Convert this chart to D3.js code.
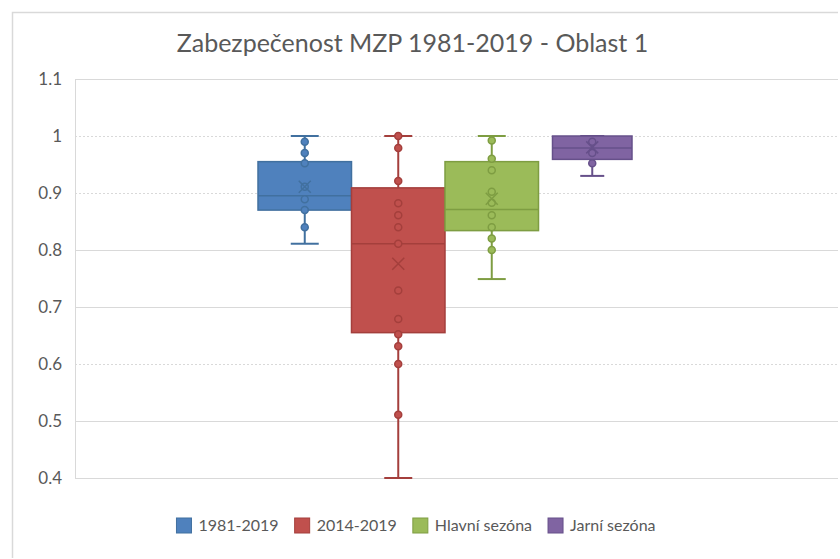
<!DOCTYPE html>
<html><head><meta charset="utf-8">
<script src="https://cdn.jsdelivr.net/npm/d3@7"></script>
<style>body{margin:0;background:#fff}svg{display:block}</style>
</head><body>
<svg id="c" width="840" height="559"></svg>
<script>
const title = "Zabezpečenost MZP 1981-2019 - Oblast 1";
const series = ["1981-2019", "2014-2019", "Hlavní sezóna", "Jarní sezóna"];
const fills = ["#4f81bd", "#c0504d", "#9bbb59", "#8064a2"];
const strokes = ["#41709f", "#a43f3c", "#7e9d42", "#66508a"];
const mins = [0.811, 0.40, 0.749, 0.93];
const q1s = [0.870, 0.655, 0.834, 0.959];
const medians = [0.895, 0.811, 0.871, 0.979];
const q3s = [0.955, 0.909, 0.955, 1.0];
const maxs = [1.0, 1.0, 1.0, 1.0];
const means = [0.911, 0.776, 0.890, 0.980];
const pointsBlue = [0.99, 0.97, 0.952, 0.911, 0.889, 0.870, 0.84];
const pointsRed = [1.0, 0.979, 0.921, 0.882, 0.861, 0.84, 0.811, 0.729, 0.679, 0.652, 0.631, 0.60, 0.511];
const pointsGreen = [0.992, 0.96, 0.94, 0.902, 0.883, 0.861, 0.84, 0.82, 0.80];
const pointsPurple = [0.99, 0.97, 0.952];
const points = [pointsBlue, pointsRed, pointsGreen, pointsPurple];
const yTicks = [0.4, 0.5, 0.6, 0.7, 0.8, 0.9, 1.0, 1.1];
const yTickLabels = ["0.4", "0.5", "0.6", "0.7", "0.8", "0.9", "1", "1.1"];
const dottedTicks = [0.6, 0.9, 1.0];

const svg = d3.select("#c");
const font = "Lato, 'Open Sans', sans-serif";
const plot = {left: 75, right: 838, top: 79, bottom: 478};

// chart border
svg.append("path").attr("d", "M12.5,558 V12.5 H838").attr("fill", "none").attr("stroke", "#d9d9d9").attr("stroke-width", 1.5);

const y = d3.scaleLinear().domain([0.4, 1.1]).range([plot.bottom, plot.top]);
const x = d3.scaleBand().domain(series).range([258, 632]).paddingInner(0).paddingOuter(0);

// gridlines
svg.append("g").selectAll("line").data(yTicks).join("line")
  .attr("x1", plot.left).attr("x2", plot.right)
  .attr("y1", d => Math.round(y(d)) + 0.5).attr("y2", d => Math.round(y(d)) + 0.5)
  .attr("stroke", "#d9d9d9").attr("stroke-width", 1)
  .attr("stroke-dasharray", d => dottedTicks.some(t => Math.abs(t - d) < 1e-9) ? "2,2" : null);
svg.append("line").attr("x1", plot.left + 0.5).attr("x2", plot.left + 0.5)
  .attr("y1", plot.top).attr("y2", plot.bottom + 0.5).attr("stroke", "#d9d9d9");

// y axis labels
const yAxis = d3.axisLeft(y).tickValues(yTicks).tickSize(0).tickPadding(0)
  .tickFormat((d, i) => yTickLabels[i]);
const ga = svg.append("g").attr("transform", `translate(62,0)`).call(yAxis);
ga.select(".domain").remove();
ga.selectAll("text").attr("font-family", font).attr("font-size", 17).attr("fill", "#595959");

// boxes
series.forEach((s, i) => {
  const inset = i === 3 ? 14 : 0;
  const x0 = x(s) + inset, w = x.bandwidth() - inset, cx = x0 + w / 2;
  const g = svg.append("g");
  const capW = i === 3 ? 24 : 28;
  // whiskers
  g.append("line").attr("x1", cx).attr("x2", cx).attr("y1", y(q3s[i])).attr("y2", y(maxs[i]))
    .attr("stroke", strokes[i]).attr("stroke-width", 2);
  g.append("line").attr("x1", cx).attr("x2", cx).attr("y1", y(q1s[i])).attr("y2", y(mins[i]))
    .attr("stroke", strokes[i]).attr("stroke-width", 2);
  [maxs[i], mins[i]].forEach(v => {
    g.append("line").attr("x1", cx - capW / 2).attr("x2", cx + capW / 2).attr("y1", y(v)).attr("y2", y(v))
      .attr("stroke", strokes[i]).attr("stroke-width", 2);
  });
  // box
  g.append("rect").attr("x", x0).attr("width", w)
    .attr("y", y(q3s[i])).attr("height", y(q1s[i]) - y(q3s[i]))
    .attr("fill", fills[i]).attr("stroke", strokes[i]).attr("stroke-width", 1.5);
  g.append("line").attr("x1", x0).attr("x2", x0 + w).attr("y1", y(medians[i])).attr("y2", y(medians[i]))
    .attr("stroke", strokes[i]).attr("stroke-width", 1.5);
  // points
  g.selectAll("circle").data(points[i]).join("circle")
    .attr("cx", cx).attr("cy", d => y(d)).attr("r", 3.5)
    .attr("fill", fills[i]).attr("stroke", strokes[i]).attr("stroke-width", 1.5);
  // mean X
  const my = y(means[i]), m = 6;
  g.append("path").attr("d", `M${cx - m},${my - m}L${cx + m},${my + m}M${cx - m},${my + m}L${cx + m},${my - m}`)
    .attr("stroke", strokes[i]).attr("stroke-width", 1.5).attr("fill", "none");
});

// title
svg.append("text").attr("x", 412.5).attr("y", 52).attr("text-anchor", "middle")
  .attr("font-family", font).attr("font-size", 25).attr("fill", "#595959").text(title);

// legend
const lg = svg.append("g");
const items = series.map((s, i) => {
  const it = lg.append("g");
  it.append("rect").attr("width", 15).attr("height", 15).attr("y", 518)
    .attr("fill", fills[i]).attr("stroke", strokes[i]).attr("stroke-width", 1);
  const t = it.append("text").attr("x", 22).attr("y", 531).attr("font-family", font)
    .attr("font-size", 16).attr("fill", "#595959").text(s);
  return {g: it, w: 22 + t.node().getComputedTextLength()};
});
const gap = 16;
const total = d3.sum(items, d => d.w) + gap * (items.length - 1);
let lx = 416 - total / 2;
items.forEach(d => { d.g.attr("transform", `translate(${lx},0)`); lx += d.w + gap; });
</script>
</body></html>
